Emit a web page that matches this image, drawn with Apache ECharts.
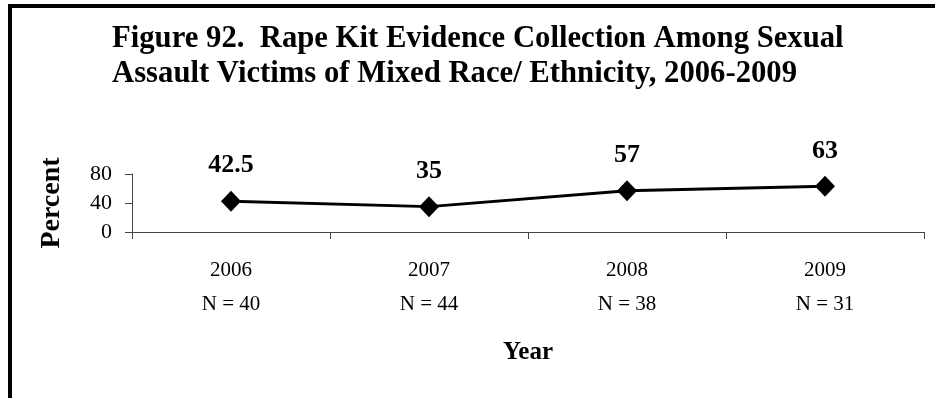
<!DOCTYPE html>
<html>
<head>
<meta charset="utf-8">
<script src="https://cdn.jsdelivr.net/npm/echarts@6/dist/echarts.min.js"></script>
<style>
html,body{margin:0;padding:0;background:#fff;}
#chart{width:935px;height:398px;}
</style>
</head>
<body>
<div id="chart"></div>
<script>
var years = ['2006', '2007', '2008', '2009'];
var sampleN = ['N = 40', 'N = 44', 'N = 38', 'N = 31'];
var percentValues = [42.5, 35, 57, 63];
var yTicks = { min: 0, max: 80, interval: 40 };
var titleLines = ['Figure 92.  Rape Kit Evidence Collection Among Sexual', 'Assault Victims of Mixed Race/ Ethnicity, 2006-2009'];

var categories = years.map(function (y, i) { return y + '\n' + sampleN[i]; });
var serif = '"Liberation Serif", "Times New Roman", serif';

var chart = echarts.init(document.getElementById('chart'), null, { renderer: 'canvas' });
chart.setOption({
  animation: false,
  backgroundColor: '#ffffff',
  title: {
    text: titleLines.join('\n'),
    left: 112,
    top: 22,
    padding: 0,
    textStyle: {
      fontFamily: serif,
      fontWeight: 'bold',
      fontSize: 30.7,
      lineHeight: 35,
      color: '#000'
    }
  },
  graphic: [
    { type: 'rect', shape: { x: 8, y: 4, width: 4, height: 394 }, style: { fill: '#000' }, silent: true },
    { type: 'rect', shape: { x: 8, y: 4, width: 927, height: 4 }, style: { fill: '#000' }, silent: true }
  ],
  grid: { left: 132, right: 11, top: 174, bottom: 166, containLabel: false },
  xAxis: {
    type: 'category',
    data: categories,
    boundaryGap: true,
    name: 'Year',
    nameLocation: 'middle',
    nameGap: 108,
    nameTextStyle: { fontFamily: serif, fontWeight: 'bold', fontSize: 25, color: '#000', verticalAlign: 'top' },
    axisLine: { lineStyle: { color: '#444', width: 1 } },
    axisTick: { show: true, alignWithLabel: false, length: 7, lineStyle: { color: '#444' } },
    axisLabel: { fontFamily: serif, fontSize: 21, color: '#000', lineHeight: 34, margin: 21 },
    splitLine: { show: false }
  },
  yAxis: {
    type: 'value',
    min: yTicks.min,
    max: yTicks.max,
    interval: yTicks.interval,
    name: 'Percent',
    nameLocation: 'middle',
    nameRotate: 90,
    nameGap: 66,
    nameTextStyle: { fontFamily: serif, fontWeight: 'bold', fontSize: 28, color: '#000' },
    axisLine: { show: true, lineStyle: { color: '#444', width: 1 } },
    axisTick: { show: true, length: 7, lineStyle: { color: '#444' } },
    axisLabel: { fontFamily: serif, fontSize: 22, color: '#000', margin: 20 },
    splitLine: { show: false }
  },
  series: [{
    type: 'line',
    data: percentValues,
    symbol: 'diamond',
    symbolSize: [20, 21],
    lineStyle: { color: '#000', width: 3 },
    itemStyle: { color: '#000' },
    label: {
      show: true,
      position: 'top',
      distance: 12,
      fontFamily: serif,
      fontWeight: 'bold',
      fontSize: 26,
      color: '#000'
    }
  }]
});
</script>
</body>
</html>
